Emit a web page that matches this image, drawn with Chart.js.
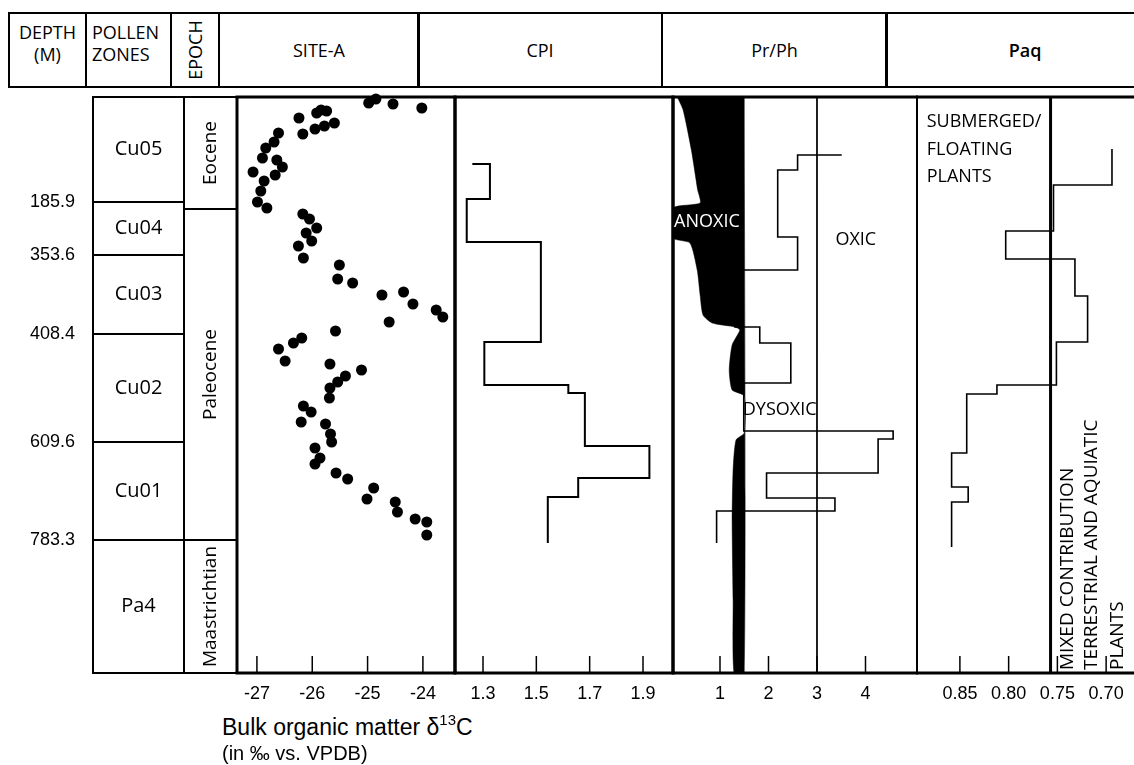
<!DOCTYPE html>
<html>
<head>
<meta charset="utf-8">
<title>SITE-A log</title>
<script src="https://cdn.jsdelivr.net/npm/chart.js@4.4.1/dist/chart.umd.min.js"></script>
<style>
  html, body { margin: 0; padding: 0; background: #fff; overflow: hidden; }
  #fig { position: relative; width: 1134px; height: 765px; overflow: hidden; font-family: 'Open Sans', sans-serif; color: #000; }
  #fig canvas { position: absolute; }
  .hd { position: absolute; top: 12px; height: 76px; box-sizing: border-box; border: 2px solid #000; font-size: 18px; line-height: 22px;
        display: flex; align-items: center; justify-content: center; text-align: center; }
  .hd.top { align-items: flex-start; padding-top: 7px; }
  .hd.left { justify-content: flex-start; text-align: left; padding-left: 5px; }
  .rot { display: inline-block; transform: rotate(-90deg); white-space: nowrap; }
  .cap { position: absolute; left: 222px; font-family: 'Liberation Sans', Arial, sans-serif; white-space: nowrap; }
</style>
</head>
<body>
<div id="fig">
  <div class="hd top" style="left:8px;width:79px;">DEPTH<br>(M)</div>
  <div class="hd top left" style="left:85px;width:87px;">POLLEN<br>ZONES</div>
  <div class="hd" style="left:170px;width:50px;"><span class="rot">EPOCH</span></div>
  <div class="hd" style="left:218px;width:202px;">SITE-A</div>
  <div class="hd" style="left:417px;width:246px;">CPI</div>
  <div class="hd" style="left:661px;width:227px;">Pr/Ph</div>
  <div class="hd" style="left:885px;width:280px;font-weight:600;">Paq</div>

  <canvas id="zones"></canvas>
  <canvas id="epochs"></canvas>
  <canvas id="site"></canvas>
  <canvas id="cpi"></canvas>
  <canvas id="prph"></canvas>
  <canvas id="paq"></canvas>

  <div class="cap" style="top:713px;font-size:23px;line-height:28px;">Bulk organic matter δ<span style="font-size:15px;position:relative;top:-10px;">13</span>C</div>
  <div class="cap" style="top:741px;font-size:20px;line-height:24px;">(in ‰ vs. VPDB)</div>
</div>
<script>
// relative position down the log, 0 = top of section, 576 = base
const sectionSpan = [0, 576];

// zone boundaries and their depths (m)
const depthMarks = [105, 158, 237, 345, 443];
const depthLabels = ['185.9', '353.6', '408.4', '609.6', '783.3'];

const pollenZones = ['Cu05', 'Cu04', 'Cu03', 'Cu02', 'Cu01', 'Pa4'];
const pollenTops  = [0, 105, 158, 237, 345, 443];
const pollenBases = [105, 158, 237, 345, 443, 576];

const epochs     = ['Eocene', 'Paleocene', 'Maastrichtian'];
const epochTops  = [0, 112, 443];
const epochBases = [112, 443, 576];

// SITE-A bulk organic matter d13C
const d13cPos = [2, 6, 7, 11, 21, 16, 13, 14, 32, 29,
  26, 37, 36, 45, 51, 61, 63, 70, 75, 78,
  84, 94, 105, 111, 117, 122, 131, 136, 144, 149,
  161, 168, 182, 186, 198, 195, 207, 213, 220, 225,
  234, 241, 246, 252, 264, 267, 273, 279, 285, 291,
  301, 309, 315, 325, 327, 337, 345, 351, 361, 367,
  376, 382, 391, 402, 405, 415, 422, 425, 438];
const d13cValues = [-24.85, -24.98, -24.54, -24.02, -26.24, -25.92, -25.84, -25.74, -25.95, -25.78,
  -25.60, -26.17, -26.61, -26.69, -26.84, -26.90, -26.64, -26.54, -27.07, -26.67,
  -26.87, -26.93, -26.99, -26.82, -26.17, -26.05, -25.92, -26.11, -26.01, -26.25,
  -26.16, -25.51, -25.54, -25.27, -24.74, -24.35, -24.18, -23.76, -23.64, -24.61,
  -25.58, -26.19, -26.34, -26.61, -26.49, -25.68, -25.11, -25.40, -25.54, -25.68,
  -25.69, -26.16, -26.02, -26.20, -25.76, -25.67, -25.65, -25.95, -25.86, -25.95,
  -25.57, -25.36, -24.89, -25.01, -24.50, -24.46, -24.14, -23.93, -23.93];

// CPI steps (value from each top down to the next top)
const cpiTops   = [67, 67, 102, 145, 245, 288, 296, 349, 381, 400, 446];
const cpiValues = [1.26, 1.326, 1.239, 1.517, 1.305, 1.62, 1.682, 1.924, 1.657, 1.543, 1.543];

// Pr/Ph steps
const prphTops   = [58, 58, 73, 140, 173, 230, 246, 286, 334, 342, 376, 401, 414, 446];
const prphValues = [3.51, 2.60, 2.19, 2.60, 1.31, 1.82, 2.46, 1.49, 4.57, 4.26, 1.96, 3.37, 0.93, 0.93];

// anoxic field: left edge of the black area, filled up to anoxicLimit
const anoxicPos  = [0, 13, 53, 93, 106, 111, 141, 146, 173, 198, 218, 226, 230, 233, 248, 273, 293, 299, 336, 343, 373, 423, 503, 576];
const anoxicEdge = [0.12, 0.24, 0.41, 0.54, 0.59, 0.03, 0.03, 0.38, 0.53, 0.59, 0.65, 0.84, 1.31, 1.41, 1.25, 1.19, 1.25, 1.5, 1.5, 1.33, 1.27, 1.25, 1.27, 1.29];
const anoxicLimit = 1.5;
const oxicLimit = 3;

// Paq steps
const paqTops   = [52, 88, 134, 162, 199, 245, 288, 297, 356, 390, 405, 450];
const paqValues = [0.694, 0.754, 0.803, 0.732, 0.719, 0.751, 0.812, 0.843, 0.8585, 0.8415, 0.8585, 0.8585];
const paqLimit = 0.757;

// tick labels
const siteTicks = [-27, -26, -25, -24];
const cpiTicks  = [1.3, 1.5, 1.7, 1.9];
const prphTicks = [1, 2, 3, 4];
const paqTicks  = [0.85, 0.80, 0.75, 0.70];

// ---- layout ----
const TOP = 97, BOTTOM = 673, PAD = 6, AXIS_H = 40;

function placeCanvas(id, areaLeft, areaRight, withAxis, leftAxis) {
  const c = document.getElementById(id);
  const left = areaLeft - (leftAxis || PAD);
  c.width = areaRight + PAD - left;
  c.height = PAD + (BOTTOM - TOP) + (withAxis ? AXIS_H : PAD);
  c.style.left = left + 'px';
  c.style.top = (TOP - PAD) + 'px';
  return c;
}

const framePlugin = {
  id: 'frame',
  afterDatasetsDraw(chart, args, opts) {
    const {ctx, chartArea: a} = chart;
    const [t, r, b, l] = opts.widths;
    ctx.save();
    ctx.strokeStyle = '#000';
    const seg = (lw, x1, y1, x2, y2) => {
      if (!lw) return;
      ctx.lineWidth = lw;
      ctx.beginPath(); ctx.moveTo(x1, y1); ctx.lineTo(x2, y2); ctx.stroke();
    };
    seg(t, a.left - l / 2, a.top, a.right + r / 2, a.top);
    seg(b, a.left - l / 2, a.bottom, a.right + r / 2, a.bottom);
    seg(l, a.left, a.top, a.left, a.bottom);
    seg(r, a.right, a.top, a.right, a.bottom);
    ctx.restore();
  }
};

// tick marks pointing up into the panel
const innerTicks = {
  id: 'innerTicks',
  afterDraw(chart) {
    const x = chart.scales.x, a = chart.chartArea, ctx = chart.ctx;
    ctx.save();
    ctx.lineWidth = 1.5;
    ctx.strokeStyle = '#000';
    x.ticks.forEach(t => {
      const px = x.getPixelForValue(t.value);
      ctx.beginPath(); ctx.moveTo(px, a.bottom); ctx.lineTo(px, a.bottom - 17); ctx.stroke();
    });
    ctx.restore();
  }
};

const notesPlugin = {
  id: 'notes',
  afterDatasetsDraw(chart, args, opts) {
    const ctx = chart.ctx, xs = chart.scales.x, ys = chart.scales.y;
    (opts.items || []).forEach(n => {
      ctx.save();
      ctx.font = n.font || "17px 'Open Sans'";
      ctx.fillStyle = n.color || '#000';
      ctx.textAlign = n.align || 'center';
      ctx.textBaseline = 'middle';
      ctx.translate(xs.getPixelForValue(n.x), ys.getPixelForValue(n.y));
      if (n.rotate) ctx.rotate(n.rotate);
      ctx.fillText(n.text, 0, 0);
      ctx.restore();
    });
  }
};

// names written in the middle of each zone box
const boxLabels = {
  id: 'boxLabels',
  afterDatasetsDraw(chart, args, opts) {
    const ctx = chart.ctx;
    chart.data.datasets.forEach((ds, i) => {
      const bar = chart.getDatasetMeta(i).data[0];
      ctx.save();
      ctx.font = opts.font;
      ctx.fillStyle = '#000';
      ctx.textAlign = 'center';
      ctx.textBaseline = 'middle';
      ctx.translate(bar.x, (bar.y + bar.base) / 2);
      if (opts.rotate) ctx.rotate(-Math.PI / 2);
      ctx.fillText(ds.label, 0, 0);
      ctx.restore();
    });
  }
};

Chart.defaults.font.family = "'Liberation Sans', Arial, sans-serif";
Chart.defaults.color = '#000';

function depthAxis(show) {
  const axis = {
    type: 'linear', min: sectionSpan[0], max: sectionSpan[1], reverse: true,
    display: show, grid: {display: false, drawTicks: false}, border: {display: false}
  };
  if (show) {
    axis.afterBuildTicks = s => { s.ticks = depthMarks.map(v => ({value: v})); };
    axis.afterFit = s => { s.width = 93; s.paddingTop = 0; s.paddingBottom = 0; };
    axis.ticks = {autoSkip: false, padding: 18, font: {size: 18}, callback: (v, i) => depthLabels[i]};
  }
  return axis;
}

function valueAxis(min, max, ticks, decimals, reverse) {
  return {
    type: 'linear', position: 'bottom', min: min, max: max, reverse: !!reverse,
    grid: {display: false, drawTicks: false}, border: {display: false},
    afterBuildTicks: s => { s.ticks = ticks.map(v => ({value: v})); },
    afterFit: s => { s.height = AXIS_H; s.paddingLeft = 0; s.paddingRight = 0; },
    ticks: {autoSkip: false, maxRotation: 0, padding: 10, font: {size: 18}, callback: v => v.toFixed(decimals)}
  };
}

const baseOpts = {
  responsive: false, animation: false, events: [],
  plugins: {legend: {display: false}, tooltip: {enabled: false}}
};

function stepPoints(vals, tops) {
  return vals.map((v, i) => ({x: v, y: tops[i]}));
}

function boxChart(id, left, right, names, tops, bases, leftAxis, labelOpts) {
  new Chart(placeCanvas(id, left, right, false, leftAxis), {
    type: 'bar',
    data: {
      labels: ['col'],
      datasets: names.map((n, i) => ({
        label: n, data: [[tops[i], bases[i]]],
        backgroundColor: '#fff', borderColor: '#000', borderWidth: 1.3, borderSkipped: false,
        grouped: false, barPercentage: 1, categoryPercentage: 1
      }))
    },
    options: Object.assign({}, baseOpts, {
      layout: {padding: {left: leftAxis ? 0 : PAD, right: PAD, top: PAD, bottom: PAD}},
      scales: {x: {type: 'category', display: false}, y: depthAxis(!!leftAxis)},
      plugins: Object.assign({}, baseOpts.plugins, {frame: {widths: [2, 2, 2, 2]}, boxLabels: labelOpts})
    }),
    plugins: [framePlugin, boxLabels]
  });
}

boxChart('zones', 93, 184, pollenZones, pollenTops, pollenBases, 93, {font: "20px 'Open Sans'"});
boxChart('epochs', 184, 237, epochs, epochTops, epochBases, 0, {font: "19px 'Open Sans'", rotate: true});

function panelChart(id, left, right, xAxis, datasets, frame, notes) {
  new Chart(placeCanvas(id, left, right, true, 0), {
    type: 'scatter',
    data: {datasets: datasets},
    options: Object.assign({}, baseOpts, {
      layout: {padding: {left: PAD, right: PAD, top: PAD, bottom: 0}},
      scales: {x: xAxis, y: depthAxis(false)},
      plugins: Object.assign({}, baseOpts.plugins, {frame: {widths: frame}, notes: {items: notes || []}})
    }),
    plugins: [framePlugin, innerTicks, notesPlugin]
  });
}

const stepLine = (vals, tops, width) => ({
  data: stepPoints(vals, tops), showLine: true, stepped: 'after',
  borderColor: '#000', borderWidth: width, pointRadius: 0, fill: false
});

// SITE-A
panelChart('site', 237, 455, valueAxis(-27.36, -23.42, siteTicks, 0), [{
  data: d13cValues.map((v, i) => ({x: v, y: d13cPos[i]})),
  pointRadius: 5.5, pointHoverRadius: 5.5, pointBackgroundColor: '#000', pointBorderWidth: 0, clip: 8
}], [3, 3, 3, 3]);

// CPI
panelChart('cpi', 455, 673, valueAxis(1.195, 2.0125, cpiTicks, 1), [
  stepLine(cpiValues, cpiTops, 2)
], [3, 3, 3, 3]);

// Pr/Ph
const anoxicShape = anoxicEdge.map((v, i) => ({x: v, y: anoxicPos[i]}))
  .concat([{x: anoxicLimit, y: sectionSpan[1]}, {x: anoxicLimit, y: sectionSpan[0]}]);
panelChart('prph', 673, 917, valueAxis(0.031, 5.062, prphTicks, 0), [
  {data: anoxicShape, showLine: true, fill: 'shape', backgroundColor: '#000', borderColor: '#000', borderWidth: 0.5, pointRadius: 0, tension: 0.2},
  {data: [{x: oxicLimit, y: sectionSpan[0]}, {x: oxicLimit, y: sectionSpan[1]}], showLine: true, borderColor: '#000', borderWidth: 1, pointRadius: 0},
  stepLine(prphValues, prphTops, 1.6)
], [3, 2, 3, 3], [
  {text: 'ANOXIC', x: 0.73, y: 125, color: '#fff', font: "18px 'Open Sans'"},
  {text: 'OXIC', x: 3.8, y: 143, font: "18px 'Open Sans'"},
  {text: 'DYSOXIC', x: 1.47, y: 313, align: 'left', font: "18px 'Open Sans'"}
]);

// Paq
const rotFont = "19px 'Open Sans'";
panelChart('paq', 917, 1150, valueAxis(0.655, 0.894, paqTicks, 2, true), [
  {data: [{x: paqLimit, y: sectionSpan[0]}, {x: paqLimit, y: sectionSpan[1]}], showLine: true, borderColor: '#000', borderWidth: 3, pointRadius: 0},
  stepLine(paqValues, paqTops, 1.6)
], [3, 3, 3, 2], [
  {text: 'SUBMERGED/', x: 0.884, y: 25, align: 'left', font: "18px 'Open Sans'"},
  {text: 'FLOATING', x: 0.884, y: 53, align: 'left', font: "18px 'Open Sans'"},
  {text: 'PLANTS', x: 0.884, y: 80, align: 'left', font: "18px 'Open Sans'"},
  {text: 'MIXED CONTRIBUTION', x: 0.740, y: 573, align: 'left', rotate: -Math.PI / 2, font: rotFont},
  {text: 'TERRESTRIAL AND AQUIATIC', x: 0.7145, y: 573, align: 'left', rotate: -Math.PI / 2, font: rotFont},
  {text: 'PLANTS', x: 0.688, y: 573, align: 'left', rotate: -Math.PI / 2, font: rotFont}
]);
</script>
</body>
</html>
